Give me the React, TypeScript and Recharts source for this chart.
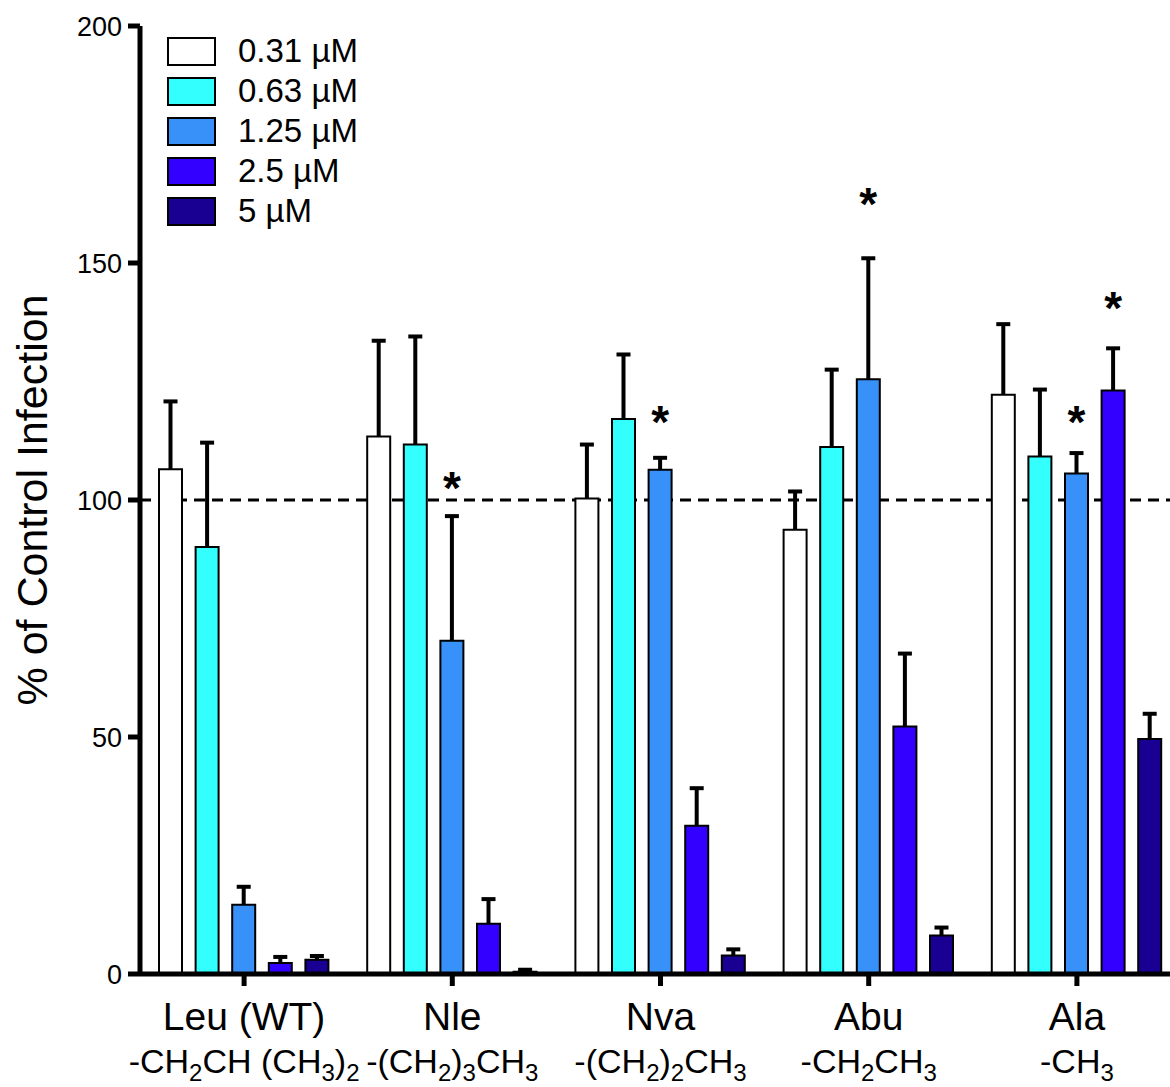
import React from 'react';
import { BarChart, Bar, XAxis, YAxis, ErrorBar, CartesianGrid, LabelList, Legend, Label } from 'recharts';

const FONT = '"Liberation Sans", Arial, Helvetica, sans-serif';

const categories = ['Leu (WT)', 'Nle', 'Nva', 'Abu', 'Ala'];
const sideChains = ['-CH_2CH (CH_3)_2', '-(CH_2)_3CH_3', '-(CH_2)_2CH_3', '-CH_2CH_3', '-CH_3'];

const seriesNames = ['0.31 µM', '0.63 µM', '1.25 µM', '2.5 µM', '5 µM'];
const seriesColors = ['#FFFFFF', '#33FFFF', '#3891F9', '#3300FF', '#1A0092'];

const values031 = [106.5, 113.4, 100.3, 93.7, 122.2];
const errors031 = [14.3, 20.2, 11.4, 8.1, 14.9];
const values063 = [90.1, 111.7, 117.1, 111.2, 109.2];
const errors063 = [22.0, 22.8, 13.6, 16.3, 14.1];
const values125 = [14.6, 70.3, 106.4, 125.5, 105.6];
const errors125 = [3.8, 26.3, 2.5, 25.5, 4.3];
const values25 = [2.3, 10.6, 31.3, 52.2, 123.1];
const errors25 = [1.3, 5.2, 7.9, 15.4, 8.9];
const values5 = [3.0, 0.5, 3.9, 8.1, 49.6];
const errors5 = [0.8, 0.4, 1.3, 1.7, 5.3];

// position (in % units) of the significance asterisks
const star125 = [null, 105, 119, 165, 119];
const star25 = [null, null, null, null, 143];

const yTicks = [0, 50, 100, 150, 200];
const controlLevel = [100];

const seriesValues = [values031, values063, values125, values25, values5];
const seriesErrors = [errors031, errors063, errors125, errors25, errors5];

const data = categories.map((c, i) => {
  const row: any = { name: c, st2: star125[i], st3: star25[i] };
  seriesValues.forEach((arr, k) => {
    row['s' + k] = arr[i];
    row['e' + k] = seriesErrors[k][i];
  });
  return row;
});

const XTick = (props: any) => {
  const { x, y, payload } = props;
  const idx = categories.indexOf(payload.value);
  const parts = sideChains[idx].split(/_(\d)/);
  const shift = 8;
  const spans: any[] = [];
  let inSub = false;
  parts.forEach((p, j) => {
    const isSub = j % 2 === 1;
    if (p === '') return;
    let dy = 0;
    if (isSub && !inSub) dy = shift;
    if (!isSub && inSub) dy = -shift;
    inSub = isSub;
    spans.push(
      <tspan key={j} dy={dy} fontSize={isSub ? 24 : 34}>
        {p}
      </tspan>
    );
  });
  return (
    <g>
      <text x={x} y={y + 42} textAnchor="middle" fontSize={39} fontFamily={FONT} fill="#000">
        {payload.value}
      </text>
      <text x={x} y={y + 85} textAnchor="middle" fontSize={34} fontFamily={FONT} fill="#000">
        {spans}
      </text>
    </g>
  );
};

const makeStar = (vals: number[]) => (props: any) => {
  const { value, index } = props;
  if (value == null) return null;
  const vb = props.viewBox || props;
  const { x, y, width, height } = vb;
  const v = vals[index];
  const base = y + height;
  const cy = base - (value * height) / v;
  const fs = 46;
  return (
    <text x={x + width / 2} y={cy + 0.6 * fs} textAnchor="middle" fontSize={fs} fontWeight="bold" fontFamily={FONT} fill="#000">
      *
    </text>
  );
};

const LegendContent = () => (
  <div style={{ fontFamily: FONT }}>
    {seriesNames.map((n, i) => (
      <div key={n} style={{ display: 'flex', alignItems: 'center', height: 40 }}>
        <div
          style={{
            width: 49,
            height: 29,
            boxSizing: 'border-box',
            border: '2px solid #000',
            background: seriesColors[i],
          }}
        />
        <span style={{ marginLeft: 22, fontSize: 33, color: '#000', lineHeight: '40px' }}>{n}</span>
      </div>
    ))}
  </div>
);

export default function App() {
  return (
    <div style={{ position: 'fixed', left: 0, top: 0, width: 1170, height: 1087, overflow: 'hidden', background: '#fff' }}>
      <BarChart
        width={1181}
        height={1087}
        data={data}
        margin={{ top: 26, right: 0, bottom: 0, left: 0 }}
        barSize={23}
        barGap={13.6}
      >
        <CartesianGrid
          vertical={false}
          horizontalValues={controlLevel}
          stroke="#000"
          strokeWidth={3}
          strokeDasharray="11 7"
        />
        <XAxis
          dataKey="name"
          height={113}
          axisLine={{ stroke: '#000', strokeWidth: 5 }}
          tickLine={{ stroke: '#000', strokeWidth: 5 }}
          tickSize={12}
          tick={<XTick />}
          interval={0}
        />
        <YAxis
          width={140}
          domain={[0, 200]}
          ticks={yTicks}
          axisLine={{ stroke: '#000', strokeWidth: 5 }}
          tickLine={{ stroke: '#000', strokeWidth: 5 }}
          tickSize={12}
          tickMargin={6}
          tick={{ fontSize: 27, fill: '#000', fontFamily: FONT }}
        >
          <Label
            content={(p: any) => {
              const vb = p.viewBox;
              const cy = vb.y + vb.height / 2;
              return (
                <text transform={`translate(47,${cy}) rotate(-90)`} textAnchor="middle" fontSize={43} fontFamily={FONT} fill="#000">
                  % of Control Infection
                </text>
              );
            }}
          />
        </YAxis>
        {seriesNames.map((n, k) => (
          <Bar key={n} dataKey={'s' + k} name={n} fill={seriesColors[k]} stroke="#000" strokeWidth={2} isAnimationActive={false}>
            <ErrorBar dataKey={'e' + k} direction="y" width={7} stroke="#000" strokeWidth={4} zIndex={250} />
            {k === 2 && <LabelList dataKey="st2" content={makeStar(values125)} />}
            {k === 3 && <LabelList dataKey="st3" content={makeStar(values25)} />}
          </Bar>
        ))}
        <Legend
          layout="horizontal"
          verticalAlign="middle"
          align="center"
          wrapperStyle={{ position: 'absolute', top: 31, left: 167, width: 'auto', height: 'auto' }}
          content={<LegendContent />}
        />
      </BarChart>
    </div>
  );
}
